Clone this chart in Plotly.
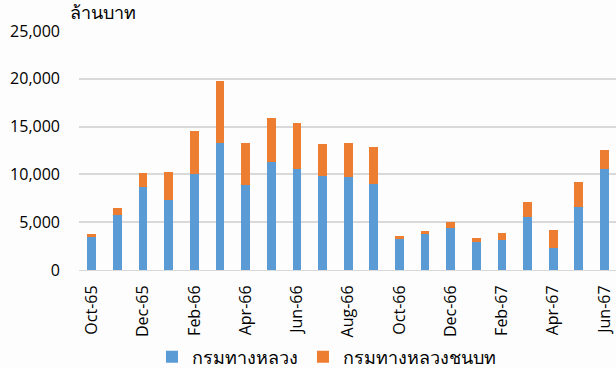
import plotly.graph_objects as go

months = ["Oct-65", "Nov-65", "Dec-65", "Jan-66", "Feb-66", "Mar-66", "Apr-66",
          "May-66", "Jun-66", "Jul-66", "Aug-66", "Sep-66", "Oct-66", "Nov-66",
          "Dec-66", "Jan-67", "Feb-67", "Mar-67", "Apr-67", "May-67", "Jun-67"]
doh = [3500, 5720, 8710, 7320, 10040, 13250, 8930, 11260, 10530, 9800, 9730,
       8960, 3240, 3730, 4430, 2930, 3100, 5580, 2340, 6630, 10530]
drr = [300, 730, 1400, 2900, 4530, 6550, 4390, 4670, 4850, 3380, 3590,
       3910, 280, 350, 590, 420, 810, 1570, 1840, 2570, 2050]
tick_labels = months[::2]
y_ticks = [0, 5000, 10000, 15000, 20000, 25000]

font_fam = "Open Sans, Noto Sans, Tahoma, sans-serif"

fig = go.Figure()
fig.add_trace(go.Bar(x=months, y=doh, name="กรมทางหลวง", marker_color="#5B9BD5",
                     marker_line_width=0))
fig.add_trace(go.Bar(x=months, y=drr, name="กรมทางหลวงชนบท", marker_color="#ED7D31",
                     marker_line_width=0))

fig.update_layout(
    barmode="stack",
    bargap=0.66,
    width=616, height=368,
    margin=dict(l=79, r=0, t=31, b=98, autoexpand=False),
    paper_bgcolor="#FDFDFD",
    plot_bgcolor="#FDFDFD",
    font=dict(family=font_fam, size=15, color="#000000"),
    showlegend=True,
    legend=dict(orientation="h", x=0.53, xanchor="center", xref="container",
                y=0.03, yanchor="middle", yref="container",
                font=dict(size=18), itemwidth=30, traceorder="normal"),
    xaxis=dict(type="category", tickmode="array", tickvals=tick_labels, ticktext=tick_labels,
               tickangle=-90, showgrid=False, showline=True, linecolor="#D9D9D9",
               ticks="", range=[-0.5, 20.45], tickfont=dict(size=16), automargin=False,
               ticklabelstandoff=8),
    yaxis=dict(range=[0, 25000], tickvals=y_ticks, tickformat=",d",
               showgrid=True, gridcolor="#D9D9D9", gridwidth=1.5, zeroline=False,
               ticks="", tickfont=dict(size=16), ticklabelstandoff=18, automargin=False),
    annotations=[dict(text="ล้านบาท", xref="paper", yref="paper", x=-0.02, y=1.02,
                      xanchor="left", yanchor="bottom", showarrow=False,
                      font=dict(size=18))],
)

fig.write_html("out.html")
